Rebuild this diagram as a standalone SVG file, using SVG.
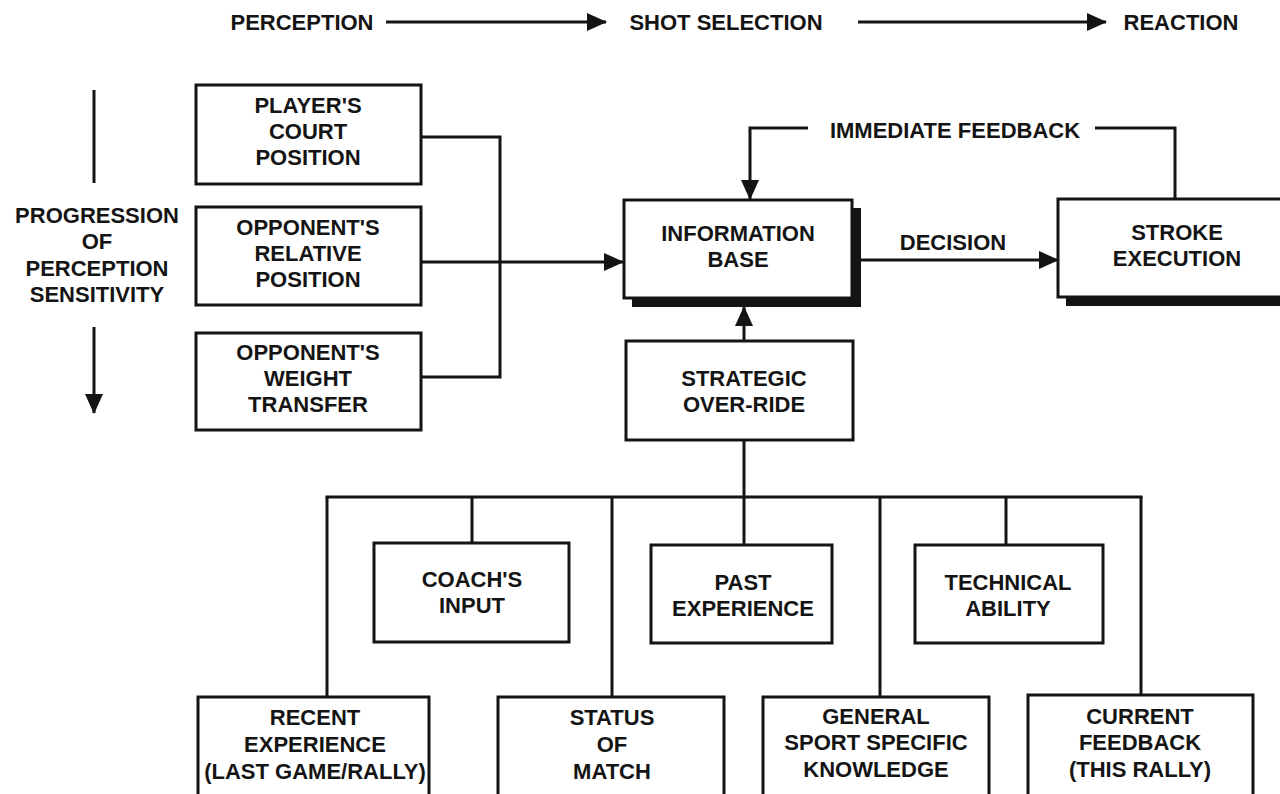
<svg xmlns="http://www.w3.org/2000/svg" width="1280" height="794" viewBox="0 0 1280 794">
<style>
.t{font-family:"Liberation Sans",Arial,sans-serif;font-weight:bold;font-size:22px;fill:#141414;text-anchor:middle}
.b{fill:#fff;stroke:#141414;stroke-width:3}
.s{fill:#141414}
.c{fill:none;stroke:#141414;stroke-width:3}
</style>
<defs>
<marker id="ah" markerWidth="20" markerHeight="18" refX="19" refY="9" orient="auto" markerUnits="userSpaceOnUse">
<path d="M0,0 L20,9 L0,18 Z" fill="#141414"/>
</marker>
</defs>
<rect width="1280" height="794" fill="#fff"/>
<g id="header">
<text class="t" x="302" y="30">PERCEPTION</text>
<text class="t" x="726" y="30">SHOT SELECTION</text>
<text class="t" x="1181" y="30">REACTION</text>
</g>
<g id="progression">
<text class="t" x="97" y="223">PROGRESSION</text>
<text class="t" x="97" y="249">OF</text>
<text class="t" x="97" y="276">PERCEPTION</text>
<text class="t" x="97" y="302">SENSITIVITY</text>
</g>
<g id="connectors">
<line class="c" x1="386" y1="22" x2="606" y2="22" marker-end="url(#ah)"/>
<line class="c" x1="858" y1="22" x2="1106" y2="22" marker-end="url(#ah)"/>
<line class="c" x1="94" y1="90" x2="94" y2="183"/>
<line class="c" x1="94" y1="327" x2="94" y2="413" marker-end="url(#ah)"/>
<polyline class="c" points="421,137 500,137 500,377 421,377"/>
<line class="c" x1="421" y1="262" x2="623" y2="262" marker-end="url(#ah)"/>
<line class="c" x1="852" y1="260" x2="1058" y2="260" marker-end="url(#ah)"/>
<polyline class="c" points="808,128 750,128 750,199" marker-end="url(#ah)"/>
<polyline class="c" points="1095,128 1175,128 1175,199"/>
<line class="c" x1="744" y1="341" x2="744" y2="307" marker-end="url(#ah)"/>
<line class="c" x1="744" y1="440" x2="744" y2="497"/>
<line class="c" x1="325.5" y1="497" x2="1142.5" y2="497"/>
<line class="c" x1="327" y1="497" x2="327" y2="697"/>
<line class="c" x1="472" y1="497" x2="472" y2="543"/>
<line class="c" x1="612" y1="497" x2="612" y2="697"/>
<line class="c" x1="744" y1="497" x2="744" y2="545"/>
<line class="c" x1="880" y1="497" x2="880" y2="697"/>
<line class="c" x1="1006" y1="497" x2="1006" y2="545"/>
<line class="c" x1="1141" y1="497" x2="1141" y2="695"/>
</g>
<g id="players-court-position">
<rect class="b" x="196" y="85" width="225" height="99"/>
<text class="t" x="308" y="113">PLAYER'S</text>
<text class="t" x="308" y="139">COURT</text>
<text class="t" x="308" y="165">POSITION</text>
</g>
<g id="opponents-relative-position">
<rect class="b" x="196" y="207" width="225" height="98"/>
<text class="t" x="308" y="235">OPPONENT'S</text>
<text class="t" x="308" y="261">RELATIVE</text>
<text class="t" x="308" y="287">POSITION</text>
</g>
<g id="opponents-weight-transfer">
<rect class="b" x="196" y="333" width="225" height="97"/>
<text class="t" x="308" y="360">OPPONENT'S</text>
<text class="t" x="308" y="386">WEIGHT</text>
<text class="t" x="308" y="412">TRANSFER</text>
</g>
<g id="information-base">
<rect class="s" x="632" y="208" width="229" height="99"/>
<rect class="b" x="624" y="200" width="228" height="98"/>
<text class="t" x="738" y="241">INFORMATION</text>
<text class="t" x="738" y="267">BASE</text>
</g>
<g id="decision-label">
<text class="t" x="953" y="250">DECISION</text>
</g>
<g id="feedback-label">
<text class="t" x="955" y="138">IMMEDIATE FEEDBACK</text>
</g>
<g id="stroke-execution">
<rect class="s" x="1066" y="207" width="220" height="99"/>
<rect class="b" x="1058" y="199" width="224" height="98"/>
<text class="t" x="1177" y="240">STROKE</text>
<text class="t" x="1177" y="266">EXECUTION</text>
</g>
<g id="strategic-over-ride">
<rect class="b" x="626" y="341" width="227" height="99"/>
<text class="t" x="744" y="386">STRATEGIC</text>
<text class="t" x="744" y="412">OVER-RIDE</text>
</g>
<g id="coachs-input">
<rect class="b" x="374" y="543" width="195" height="99"/>
<text class="t" x="472" y="587">COACH'S</text>
<text class="t" x="472" y="613">INPUT</text>
</g>
<g id="past-experience">
<rect class="b" x="651" y="545" width="181" height="98"/>
<text class="t" x="743" y="590">PAST</text>
<text class="t" x="743" y="616">EXPERIENCE</text>
</g>
<g id="technical-ability">
<rect class="b" x="915" y="545" width="188" height="98"/>
<text class="t" x="1008" y="590">TECHNICAL</text>
<text class="t" x="1008" y="616">ABILITY</text>
</g>
<g id="recent-experience">
<rect class="b" x="198" y="697" width="231" height="110"/>
<text class="t" x="315" y="725">RECENT</text>
<text class="t" x="315" y="752">EXPERIENCE</text>
<text class="t" x="315" y="779">(LAST GAME/RALLY)</text>
</g>
<g id="status-of-match">
<rect class="b" x="498" y="697" width="226" height="110"/>
<text class="t" x="612" y="725">STATUS</text>
<text class="t" x="612" y="752">OF</text>
<text class="t" x="612" y="779">MATCH</text>
</g>
<g id="general-sport-specific-knowledge">
<rect class="b" x="763" y="697" width="226" height="110"/>
<text class="t" x="876" y="724">GENERAL</text>
<text class="t" x="876" y="750">SPORT SPECIFIC</text>
<text class="t" x="876" y="777">KNOWLEDGE</text>
</g>
<g id="current-feedback">
<rect class="b" x="1028" y="695" width="225" height="112"/>
<text class="t" x="1140" y="724">CURRENT</text>
<text class="t" x="1140" y="750">FEEDBACK</text>
<text class="t" x="1140" y="777">(THIS RALLY)</text>
</g>
</svg>
